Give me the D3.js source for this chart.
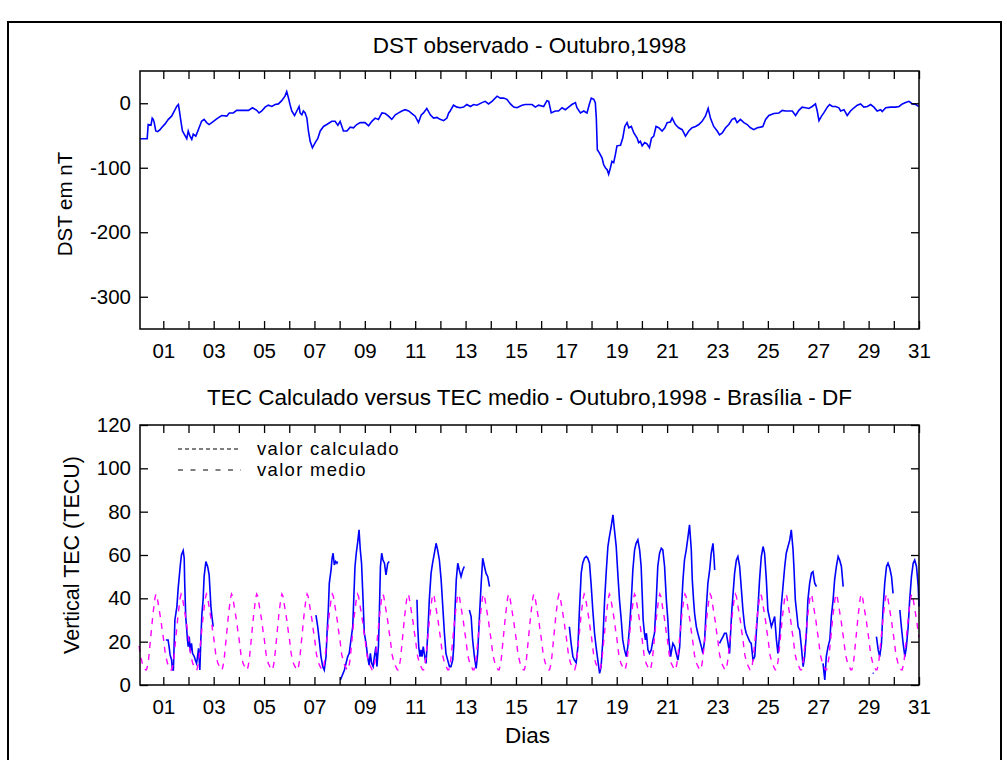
<!DOCTYPE html>
<html><head><meta charset="utf-8">
<script src="https://cdn.jsdelivr.net/npm/d3@7"></script>
<style>
body{margin:0;background:#fff}
text{font-family:"Liberation Sans",Arial,sans-serif;fill:#000}
</style>
</head><body>
<svg id="c" width="1007" height="760"></svg>
<script>
// ---------- data ----------
const dayTicks = d3.range(1, 32);
const dayLabelTicks = [1,3,5,7,9,11,13,15,17,19,21,23,25,27,29,31];
const dstTicks = [-300, -200, -100, 0];
const tecTicks = [0, 20, 40, 60, 80, 100, 120];

// DST (nT) : [day, value]
const dstSeries = [[0.07,-55],[0.36,-55],[0.40,-33],[0.51,-34],[0.56,-23],[0.60,-25],[0.64,-30],[0.70,-43],[0.78,-44],[0.87,-41],[0.93,-38],[1.07,-32],[1.20,-25],[1.33,-20],[1.44,-12],[1.53,-5],[1.60,-2],[1.64,-12],[1.70,-28],[1.76,-43],[1.83,-48],[1.93,-55],[1.99,-43],[2.06,-51],[2.13,-56],[2.19,-48],[2.29,-51],[2.39,-41],[2.52,-28],[2.62,-25],[2.72,-30],[2.82,-33],[2.99,-28],[3.16,-23],[3.32,-19],[3.52,-20],[3.62,-15],[3.78,-15],[3.91,-11],[4.11,-11],[4.38,-11],[4.54,-7],[4.71,-11],[4.80,-15],[4.91,-12],[5.04,-6],[5.17,-3],[5.31,-5],[5.44,-2],[5.57,-1],[5.70,4],[5.83,11],[5.90,18],[5.97,8],[6.03,-2],[6.10,-12],[6.21,-19],[6.30,-12],[6.39,-5],[6.43,-15],[6.50,-18],[6.56,-12],[6.63,-15],[6.70,-23],[6.76,-43],[6.83,-59],[6.92,-69],[7.03,-61],[7.13,-55],[7.23,-43],[7.36,-36],[7.49,-33],[7.69,-28],[7.82,-28],[7.93,-34],[8.02,-28],[8.15,-43],[8.29,-43],[8.42,-37],[8.55,-38],[8.68,-33],[8.82,-30],[9.01,-30],[9.15,-35],[9.28,-28],[9.41,-23],[9.54,-25],[9.68,-15],[9.81,-16],[9.94,-20],[10.07,-25],[10.21,-18],[10.34,-15],[10.47,-12],[10.60,-10],[10.74,-12],[10.87,-16],[11.00,-20],[11.13,-30],[11.24,-18],[11.33,-15],[11.46,-8],[11.60,-18],[11.73,-23],[11.86,-22],[11.99,-25],[12.13,-27],[12.26,-23],[12.33,-15],[12.39,-12],[12.52,-3],[12.66,-6],[12.79,-7],[12.92,-6],[13.05,-2],[13.19,-5],[13.32,-2],[13.45,-3],[13.65,1],[13.78,3],[13.91,-1],[14.05,3],[14.25,11],[14.38,8],[14.51,8],[14.64,6],[14.78,-1],[14.91,-6],[15.04,-7],[15.24,-3],
[15.37,-2],[15.64,-2],[15.77,-6],[15.90,-3],[16.10,-5],[16.23,4],[16.30,3],[16.40,-15],[16.56,-12],[16.69,-12],[16.83,-7],[16.96,-10],[17.09,-6],[17.22,-2],[17.36,1],[17.42,-7],[17.56,-15],[17.69,-12],[17.82,-15],[17.91,-2],[17.99,8],[18.09,6],[18.15,1],[18.19,-23],[18.23,-72],[18.31,-77],[18.42,-85],[18.48,-95],[18.55,-100],[18.62,-103],[18.68,-110],[18.75,-100],[18.81,-90],[18.88,-92],[18.95,-79],[19.01,-66],[19.15,-65],[19.24,-54],[19.32,-36],[19.41,-30],[19.48,-38],[19.58,-36],[19.68,-46],[19.81,-54],[19.87,-61],[19.94,-59],[20.01,-66],[20.11,-61],[20.20,-63],[20.30,-69],[20.38,-54],[20.47,-51],[20.56,-36],[20.67,-38],[20.80,-43],[20.91,-38],[21.00,-30],[21.13,-29],[21.20,-23],[21.33,-33],[21.46,-38],[21.60,-41],[21.73,-51],[21.86,-43],[21.99,-38],[22.13,-36],[22.26,-33],[22.39,-28],[22.52,-20],[22.63,-8],[22.72,-23],[22.85,-36],[22.99,-43],[23.08,-49],[23.19,-46],[23.32,-38],[23.45,-33],[23.58,-25],[23.69,-23],[23.78,-30],[23.91,-25],[24.05,-30],[24.18,-33],[24.31,-38],[24.44,-41],[24.58,-38],[24.71,-37],[24.80,-36],[24.91,-25],[25.04,-19],[25.24,-16],[25.44,-15],[25.57,-11],[25.70,-12],[25.97,-12],[26.10,-19],[26.23,-11],[26.36,-6],[26.50,-7],[26.63,-8],[26.76,-5],[26.89,-1],[26.96,-12],[27.03,-27],[27.13,-20],[27.22,-15],[27.36,-6],[27.45,-2],[27.56,-5],[27.69,-5],[27.82,-7],[27.89,-12],[28.02,-10],[28.15,-19],[28.28,-12],[28.42,-7],[28.55,-3],[28.68,-1],[28.81,-6],[28.95,-5],[29.08,-2],[29.21,-6],[29.34,-12],[29.48,-10],[29.54,-13],[29.68,-7],[29.87,-6],[30.07,-6],[30.21,-5],[30.34,-1],[30.47,1],[30.60,3],[30.74,-1],[30.87,-2],[31.00,-5]];

// TEC calculado (TECU) : [day, value], null = no data
const tecCalcSeries = [
[1.10,20.8],[1.19,20.8],[1.23,17.7],[1.27,13.9],[1.33,11.5],[1.36,6.9],[1.40,6.9],[1.46,30.0],[1.54,36.2],[1.59,44.6],[1.67,54.7],[1.72,60.0],[1.79,62.0],[1.83,58.5],[1.85,47.0],[1.89,31.6],[1.96,20.8],[1.99,17.7],[2.03,22.3],[2.07,15.4],[2.12,19.2],[2.16,14.6],[2.23,13.1],[2.27,11.5],[2.32,10.0],[2.36,13.1],[2.40,16.9],[2.42,13.1],[2.45,6.9],[2.49,20.8],[2.53,32.3],[2.58,39.3],[2.62,50.0],[2.69,57.0],[2.76,54.7],[2.82,50.8],[2.89,36.2],[2.93,31.6],[2.98,26.9],
null,
[7.06,32.3],[7.13,26.9],[7.19,20.8],[7.26,13.1],[7.33,8.5],[7.39,6.9],[7.46,13.1],[7.50,23.9],[7.55,34.6],[7.59,47.0],[7.66,53.1],[7.70,58.5],[7.74,60.8],[7.79,55.4],[7.84,57.0],[7.89,56.2],[7.92,57.0],
null,
[8.03,2.3],[8.19,6.9],[8.32,13.1],[8.38,14.6],[8.45,20.8],[8.52,26.9],[8.56,39.3],[8.61,54.7],[8.66,60.8],[8.72,66.2],[8.77,71.6],[8.82,62.4],[8.87,56.2],[8.93,39.3],[8.98,23.9],[9.05,19.2],[9.11,13.1],[9.17,9.2],[9.22,14.6],[9.27,10.0],[9.33,8.5],[9.38,13.1],[9.44,17.7],[9.48,8.5],[9.54,17.7],[9.58,34.6],[9.62,54.7],[9.67,60.8],[9.72,57.7],[9.78,56.2],[9.84,50.8],[9.91,56.2],[9.97,57.0],
null,
[11.07,39.3],[11.10,26.9],[11.14,17.7],[11.19,13.1],[11.23,16.2],[11.27,13.1],[11.32,17.7],[11.39,12.3],[11.43,10.0],[11.50,23.9],[11.56,39.3],[11.63,51.6],[11.69,56.2],[11.76,60.8],[11.83,65.4],[11.89,62.4],[11.96,57.7],[12.03,48.5],[12.16,23.9],[12.22,14.6],[12.29,11.5],[12.36,8.5],[12.42,8.5],[12.49,11.5],[12.53,17.7],[12.58,34.6],[12.63,48.5],[12.69,56.2],[12.75,53.1],[12.82,50.0],[12.89,53.1],[12.95,54.7],
null,
[13.15,34.6],[13.22,31.6],[13.28,20.8],[13.35,13.1],[13.42,7.7],[13.48,14.6],[13.55,31.6],[13.62,47.0],[13.68,58.5],[13.75,54.7],[13.81,51.6],[13.88,50.0],[13.95,45.4],
null,
[17.12,26.9],[17.19,19.2],[17.26,13.1],[17.32,11.5],[17.39,10.3],[17.46,17.7],[17.52,34.6],[17.59,51.6],[17.65,56.2],[17.72,58.5],[17.79,59.3],[17.85,58.5],[17.92,56.2],[17.99,45.4],[18.05,34.6],[18.12,23.9],[18.18,17.7],[18.25,11.5],[18.32,5.4],[18.38,8.5],[18.45,20.8],[18.52,39.3],[18.58,51.6],[18.65,63.9],[18.71,68.5],[18.78,73.1],[18.85,78.5],[18.91,71.6],[18.98,63.9],[19.05,50.0],[19.11,39.3],[19.18,30.0],[19.24,20.8],[19.31,16.2],[19.38,13.1],[19.44,17.7],[19.51,26.9],[19.58,39.3],[19.64,53.1],[19.71,62.4],[19.77,65.4],[19.84,67.0],[19.91,62.4],[19.97,54.7],[20.01,42.3],[20.05,30.0],[20.10,23.9],[20.14,20.8],[20.18,23.9],[20.24,16.2],[20.30,14.6],[20.37,16.2],[20.44,20.8],[20.50,23.9],[20.57,39.3],[20.63,54.7],[20.70,60.8],[20.77,63.1],[20.83,62.4],[20.90,54.7],[20.97,39.3],[21.03,30.0],[21.07,20.8],[21.14,13.1],[21.16,14.6],[21.23,19.2],[21.30,17.7],[21.36,14.6],[21.43,11.5],[21.50,17.7],[21.56,33.1],[21.63,48.5],[21.69,57.7],[21.76,62.4],[21.83,68.5],[21.89,73.9],[21.96,62.4],[22.00,48.5],[22.05,39.3],[22.09,33.1],[22.16,26.9],[22.22,23.9],[22.29,20.8],[22.36,17.7],[22.42,14.6],[22.49,20.8],[22.55,34.6],[22.62,47.0],[22.69,53.1],[22.75,60.8],[22.82,65.4],[22.86,59.3],[22.89,53.1],
null,
[23.08,19.2],[23.15,20.8],[23.22,22.3],[23.28,23.9],[23.35,23.9],[23.42,19.2],[23.48,14.6],[23.52,23.9],[23.57,34.6],[23.63,43.9],[23.68,51.6],[23.75,57.7],[23.81,59.3],[23.88,54.7],[23.95,43.9],[24.01,34.6],[24.08,26.9],[24.14,23.9],[24.28,20.0],[24.34,19.2],[24.41,11.5],[24.48,13.1],[24.54,23.9],[24.61,36.2],[24.67,48.5],[24.74,59.3],[24.81,63.9],[24.87,60.8],[24.94,48.5],[25.00,34.6],[25.14,26.9],[25.27,31.6],[25.34,20.8],[25.40,14.6],[25.47,23.9],[25.53,36.2],[25.60,45.4],[25.67,54.7],[25.73,60.8],[25.80,63.9],[25.87,67.0],[25.93,71.6],[26.00,62.4],[26.04,53.1],[26.09,39.3],[26.16,31.6],[26.20,26.9],[26.26,25.4],[26.33,17.7],[26.40,8.5],[26.46,13.1],[26.53,23.9],[26.59,39.3],[26.66,47.0],[26.73,51.6],[26.79,52.3],[26.86,47.0],[26.93,45.4],
null,
[27.19,10.0],[27.26,2.3],[27.32,13.1],[27.39,17.7],[27.46,20.8],[27.52,31.6],[27.59,39.3],[27.65,48.5],[27.72,54.7],[27.79,59.3],[27.85,57.7],[27.92,54.7],[27.99,45.4],
null,
[29.16,5.4],[29.20,5.4],
null,
[29.31,22.3],[29.38,16.2],[29.44,13.1],[29.51,19.2],[29.57,34.6],[29.64,47.0],[29.71,54.7],[29.77,56.2],[29.84,53.9],[29.91,50.0],[29.97,42.3],
null,
[30.24,34.6],[30.30,26.9],[30.37,19.2],[30.44,13.1],[30.50,17.7],[30.57,26.9],[30.63,39.3],[30.70,50.0],[30.77,56.2],[30.83,57.7],[30.90,54.7],[30.97,45.4],[31.00,36.2]
];

// TEC medio: mean hourly profile (TECU) for hours 00..23 UT, repeated every day
const tecMeanHourly = [22,18,14,12,10,9,8,7,7,9,12,17,22,27,32,36,40,42,41,38,35,32,29,25];
const monthDays = 31;

// ---------- drawing ----------
const svg = d3.select("#c");
svg.append("rect").attr("width",1007).attr("height",760).attr("fill","#fff");
svg.append("rect").attr("x",8).attr("y",22).attr("width",993).attr("height",770)
   .attr("fill","none").attr("stroke","#000").attr("stroke-width",2);

const L = 140, R = 919;
const x = d3.scaleLinear().domain([0.075, 31]).range([L, R]);
const yDst = d3.scaleLinear().domain([-350, 50]).range([329, 71]);
const yTec = d3.scaleLinear().domain([0, 120]).range([685, 425]);
const plainNum = d => String(d);

function styleAxis(g, size) {
  g.attr("font-size", null).attr("font-family", null);
  g.select(".domain").remove();
  g.selectAll("line").attr("stroke", "#000").attr("stroke-width", 1.3);
  g.selectAll("text").style("font-size", size + "px");
}

function drawAxes(y, yTicks) {
  const [bottom, top] = y.range();
  const g = svg.append("g");
  g.append("g").attr("transform", `translate(0,${bottom})`)
    .call(d3.axisBottom(x).tickValues(dayTicks).tickSize(-8).tickFormat(""))
    .call(a => styleAxis(a, 20));
  g.append("g").attr("transform", `translate(0,${top})`)
    .call(d3.axisTop(x).tickValues(dayTicks).tickSize(-8).tickFormat(""))
    .call(a => styleAxis(a, 20));
  g.append("g").attr("transform", `translate(0,${bottom})`)
    .call(d3.axisBottom(x).tickValues(dayLabelTicks).tickSize(0).tickPadding(14).tickFormat(d3.format("02d")))
    .call(a => styleAxis(a, 20.5));
  g.append("g").attr("transform", `translate(${L},0)`)
    .call(d3.axisLeft(y).tickValues(yTicks).tickSize(-8).tickPadding(9).tickFormat(plainNum))
    .call(a => styleAxis(a, 20.5));
  g.append("g").attr("transform", `translate(${R},0)`)
    .call(d3.axisRight(y).tickValues(yTicks).tickSize(-8).tickFormat(""))
    .call(a => styleAxis(a, 20));
  g.append("rect").attr("x", L).attr("y", top).attr("width", R - L).attr("height", bottom - top)
    .attr("fill", "none").attr("stroke", "#000").attr("stroke-width", 1.5);
}

// ---- top panel: DST ----
svg.append("path").datum(dstSeries)
  .attr("fill","none").attr("stroke","#0000ff").attr("stroke-width",1.6)
  .attr("d", d3.line().x(d => x(d[0])).y(d => yDst(d[1])));
drawAxes(yDst, dstTicks);
svg.append("text").attr("x", (L+R)/2).attr("y", 53).attr("text-anchor","middle")
  .style("font-size","22.5px").text("DST observado - Outubro,1998");
svg.append("text").attr("transform", `translate(72,${(71+329)/2+4}) rotate(-90)`)
  .attr("text-anchor","middle").style("font-size","20.5px").text("DST em nT");

// ---- bottom panel: TEC ----
const meanSeries = [];
for (let d = 0; d < monthDays; d++) {
  tecMeanHourly.forEach((v, h) => { if (d + h/24 >= 1/24) meanSeries.push([d + h/24, v]); });
}
meanSeries.push([monthDays, tecMeanHourly[0]]);

svg.append("path").datum(tecCalcSeries)
  .attr("fill","none").attr("stroke","#0000ff").attr("stroke-width",1.6)
  .attr("d", d3.line().defined(d => d !== null).x(d => x(d[0])).y(d => yTec(d[1])));
svg.append("path").datum(meanSeries)
  .attr("fill","none").attr("stroke","#ff00ff").attr("stroke-width",1.4)
  .attr("stroke-dasharray","6,6")
  .attr("d", d3.line().x(d => x(d[0])).y(d => yTec(d[1])));
drawAxes(yTec, tecTicks);

svg.append("text").attr("x", (L+R)/2).attr("y", 405).attr("text-anchor","middle")
  .style("font-size","22.5px").text("TEC Calculado versus TEC medio - Outubro,1998 - Brasília - DF");
svg.append("text").attr("transform", `translate(79,${(425+685)/2}) rotate(-90)`)
  .attr("text-anchor","middle").style("font-size","21.5px").text("Vertical TEC (TECU)");
svg.append("text").attr("x", (L+R)/2 - 2).attr("y", 743).attr("text-anchor","middle")
  .style("font-size","22.5px").text("Dias");

// legend
const legend = [
  {label: "valor calculado", dash: "4,3", y: 449},
  {label: "valor medio", dash: "5,7.5", y: 470}
];
legend.forEach(it => {
  svg.append("line").attr("x1",178).attr("x2",241).attr("y1",it.y).attr("y2",it.y)
    .attr("stroke","#000").attr("stroke-width",1.2).attr("stroke-dasharray",it.dash);
  svg.append("text").attr("x",257).attr("y",it.y + 6)
    .style("font-size","18.5px").style("letter-spacing","1.3px").text(it.label);
});
</script>
</body></html>
